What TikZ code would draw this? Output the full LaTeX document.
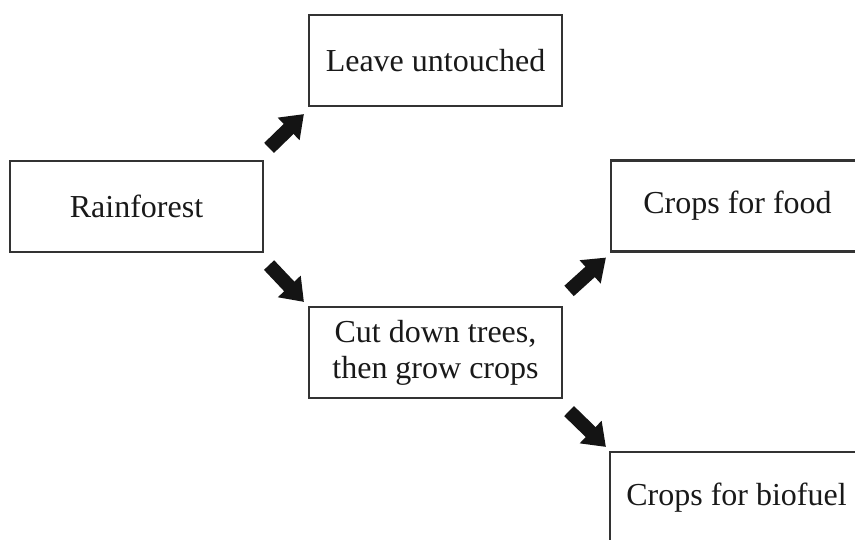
\documentclass[tikz,border=0pt]{standalone}
\usepackage{fontspec}
\setmainfont{Liberation Serif}
\usetikzlibrary{arrows.meta,calc}
\begin{document}
\begin{tikzpicture}[x=0.75pt,y=-0.75pt,
  box/.style={draw=black!80,line width=1.6pt,rectangle,minimum width=189.75pt,minimum height=68.25pt,
    inner sep=0pt,align=center,font=\fontsize{24}{27}\selectfont,text=black!90},
  fat/.style={line width=10.5pt,draw=black!92,-{Triangle[length=16pt,width=22.5pt]}}]
\useasboundingbox (0,0) rectangle (855,539);
\clip (0,0) rectangle (855,539);
\node[box] (untouched) at (435.5,60.5) {Leave untouched};
\node[box] (rain) at (136.5,206.5) {Rainforest};
\node[box] (food) at (737.5,206) {Crops for food};
\node[box] (cut) at (435.5,352.5) {Cut down trees,\\then grow crops};
\node[box] (bio) at (736.5,497.5) {Crops for biofuel};
\draw[fat] ($(rain.north east)+(5,-12)$) -- ($(untouched.south west)+(-4,7)$);
\draw[fat] ($(rain.south east)+(5,12)$) -- ($(cut.north west)+(-4,-4)$);
\draw[fat] ($(cut.north east)+(6,-15)$) -- ($(food.south west)+(-4,5)$);
\draw[fat] ($(cut.south east)+(6,12)$) -- ($(bio.north west)+(-3,-4)$);
\end{tikzpicture}
\end{document}
